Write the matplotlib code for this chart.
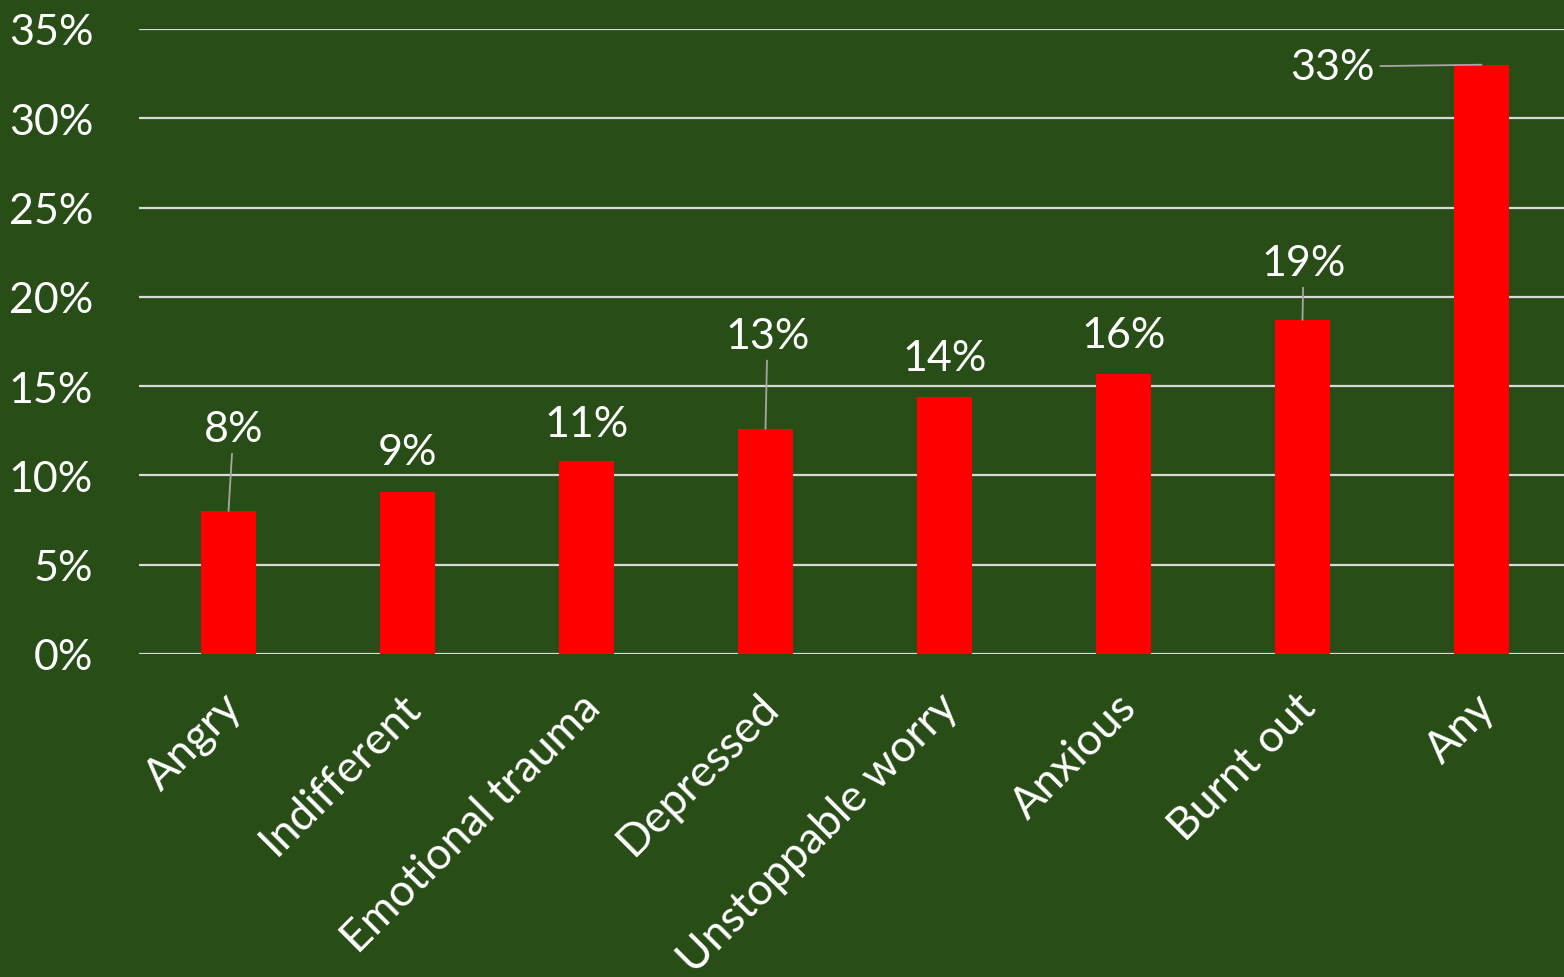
import numpy as np
import matplotlib.pyplot as plt
from matplotlib.ticker import FuncFormatter
from matplotlib.transforms import ScaledTranslation

# Share of respondents reporting each feeling (%)
categories = ['Angry', 'Indifferent', 'Emotional trauma', 'Depressed',
              'Unstoppable worry', 'Anxious', 'Burnt out', 'Any']
values = [8.0, 9.1, 10.8, 12.6, 14.4, 15.7, 18.7, 33.0]

# Where each value label sits relative to its bar top (pixels), and whether
# a leader line connects them
label_offsets = [(5, 82), (0, 39), (0, 37), (2, 93), (0, 39), (0, 39), (1, 57), (-149, -2)]
leaders = [True, False, False, True, False, False, True, True]

bg = '#284d17'
plt.rcParams['font.family'] = ['Lato', 'DejaVu Sans']

fig = plt.figure(figsize=(15.64, 9.78), dpi=100, facecolor=bg)
ax = fig.add_axes([139 / 1564, 1 - 655 / 978, 1 - 139 / 1564, 625 / 978])
ax.set_facecolor(bg)

x = np.arange(len(categories))
ax.bar(x, values, width=0.31, color='#ff0000', zorder=3)

ax.set_ylim(0, 35)
ax.set_xlim(-0.5, (1564 - 139) / 179 - 0.5)
ax.set_yticks(np.arange(0, 36, 5))
ax.yaxis.set_major_formatter(FuncFormatter(lambda v, p: f'{v:.0f}%'))
ax.grid(axis='y', color='#d9d9d9', lw=1.6, zorder=1)
ax.tick_params(axis='y', length=0, pad=33, labelsize=31, labelcolor='white')
ax.tick_params(axis='x', length=0, pad=0)
for s in ax.spines.values():
    s.set_visible(False)

ax.set_xticks(x)
ax.set_xticklabels(categories, rotation=45, ha='right', va='center',
                   rotation_mode='anchor', fontsize=32, color='white')
shift = ScaledTranslation(7 / 100, -46 / 100, fig.dpi_scale_trans)
for lbl in ax.get_xticklabels():
    lbl.set_transform(lbl.get_transform() + shift)

for xi, v, (dx, dy), lead in zip(x, values, label_offsets, leaders):
    arrow = dict(arrowstyle='-', color='#a6a6a6', lw=1.3, shrinkA=2, shrinkB=0) if lead else None
    ax.annotate(f'{v:.0f}%', xy=(xi, v), xytext=(dx, dy), textcoords='offset pixels',
                ha='center', va='center', fontsize=31, color='white',
                arrowprops=arrow, zorder=4)

fig.savefig('out.png', dpi=100, facecolor=bg)
